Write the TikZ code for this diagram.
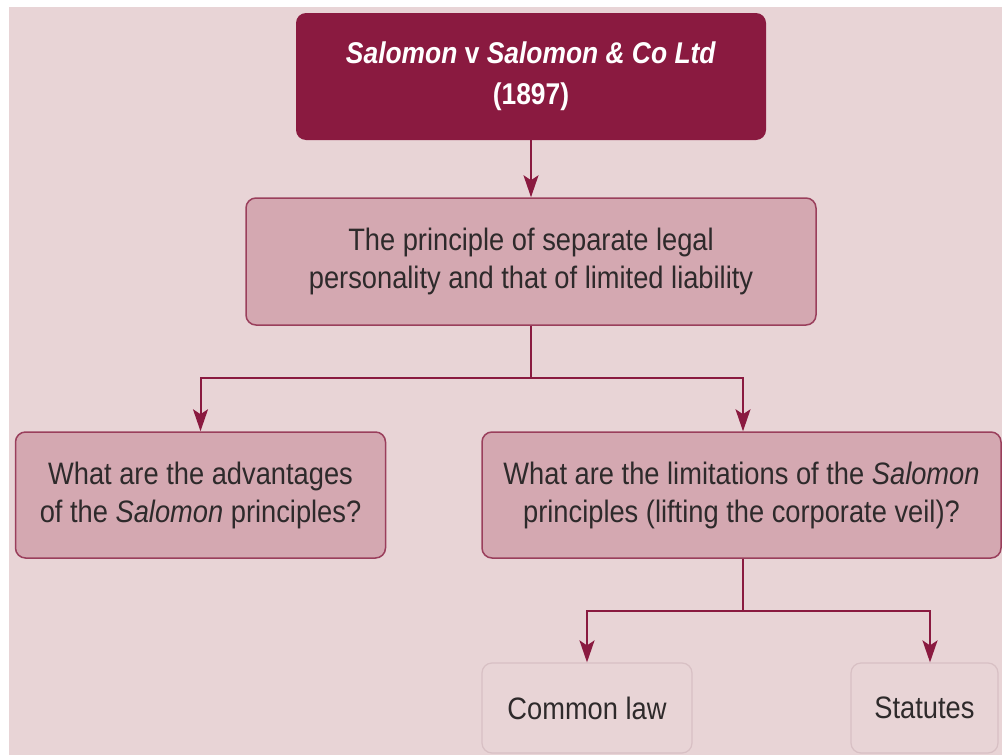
\documentclass[tikz,border=0pt]{standalone}
\usepackage{fontspec}
\setmainfont{Liberation Sans}[FakeStretch=0.88]
\usetikzlibrary{arrows.meta}
\definecolor{bg}{HTML}{E8D4D6}
\definecolor{maroon}{HTML}{8A1A40}
\definecolor{boxfill}{HTML}{D4A8B1}
\definecolor{boxline}{HTML}{9A3F5C}
\definecolor{paleline}{HTML}{D8C0C4}
\definecolor{ink}{HTML}{2E2A2B}
\begin{document}
\begin{tikzpicture}[x=1pt,y=-1pt,
  every node/.style={inner sep=0pt, align=center},
  titlebox/.style={rectangle, rounded corners=10pt, fill=maroon, text=white,
    font=\fontsize{30}{41}\selectfont\bfseries},
  mainbox/.style={rectangle, rounded corners=10pt, fill=boxfill, draw=boxline,
    line width=1.5pt, text=ink, font=\fontsize{31}{38}\selectfont},
  leafbox/.style={rectangle, rounded corners=10pt, fill=bg, draw=paleline,
    line width=1.2pt, text=ink, font=\fontsize{31}{38}\selectfont},
  link/.style={draw=maroon, line width=2pt},
  arr/.style={link, -{Stealth[length=22pt, width=15pt, inset=5pt]}}
]
\useasboundingbox (0,0) rectangle (1002,755);
\fill[white] (0,0) rectangle (1002,755);
\fill[bg] (9,7) rectangle (1002,755);

\node[titlebox, minimum width=470pt, minimum height=127pt] (case) at (531,76.5)
  {\textit{Salomon} v \textit{Salomon \& Co Ltd}\\(1897)};
\node[mainbox, minimum width=570pt, minimum height=127pt] (princ) at (531,261.5)
  {The principle of separate legal\\personality and that of limited liability};
\node[mainbox, minimum width=370pt, minimum height=126pt] (adv) at (200.5,495)
  {What are the advantages\\of the \textit{Salomon} principles?};
\node[mainbox, minimum width=519pt, minimum height=126pt] (lim) at (741.5,495)
  {What are the limitations of the \textit{Salomon}\\principles (lifting the corporate veil)?};
\node[leafbox, minimum width=210pt, minimum height=90pt] (cl) at (587,708)
  {Common law};
\node[leafbox, minimum width=147pt, minimum height=90pt] (st) at (924.5,708)
  {Statutes};

\coordinate (j1) at (531,378);
\coordinate (j2) at (743,611);

\draw[arr] (case.south) -- (princ.north);
\draw[link] (princ.south) -- (j1);
\draw[arr] (j1) -| (adv.north);
\draw[arr] (j1) -| ([xshift=1.5pt]lim.north);
\draw[link] ([xshift=1.5pt]lim.south) -- (j2);
\draw[arr] (j2) -| (cl.north);
\draw[arr] (j2) -| ([xshift=5.5pt]st.north);
\end{tikzpicture}
\end{document}
